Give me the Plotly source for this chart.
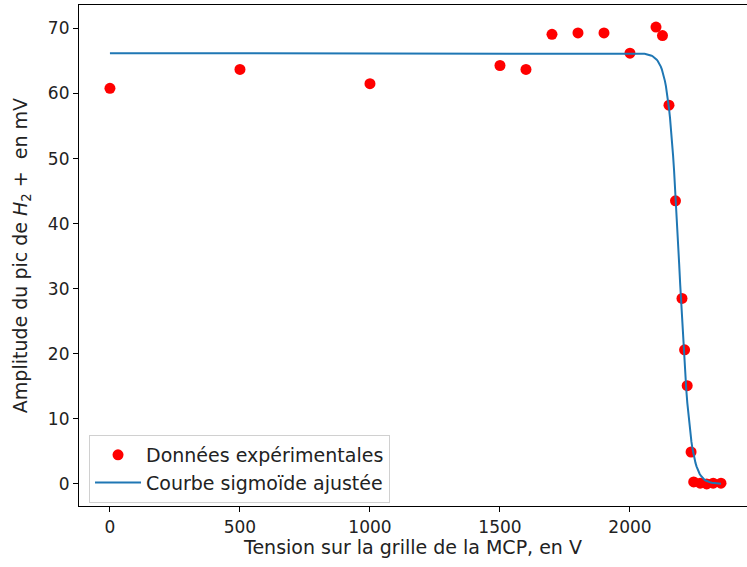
import numpy as np
import plotly.graph_objects as go

# Mesures : tension de grille (V) et amplitude du pic H2+ (mV)
tension = [0, 500, 1000, 1500, 1600, 1700, 1800, 1900, 2000, 2100, 2125,
           2150, 2175, 2200, 2210, 2220, 2235, 2245, 2270, 2295, 2320, 2350]
amplitude = [60.8, 63.7, 61.5, 64.3, 63.7, 69.1, 69.3, 69.3, 66.2, 70.2, 68.9,
             58.2, 43.5, 28.5, 20.6, 15.1, 4.9, 0.3, 0.1, 0.0, 0.1, 0.1]

# Paramètres de la sigmoïde ajustée : A / (1 + exp(k (V - V0)))
A_FIT = 66.2
K_FIT = 0.048
V0_FIT = 2190.0

v_fit = np.linspace(0, 2350, 600)
a_fit = A_FIT / (1.0 + np.exp(K_FIT * (v_fit - V0_FIT)))

FONT = "DejaVu Sans"

fig = go.Figure()
fig.add_trace(go.Scatter(
    x=tension, y=amplitude, mode="markers",
    marker=dict(color="#ff0000", size=11, line=dict(width=0)),
    name="Données expérimentales", legendgroup="a",
))
fig.add_trace(go.Scatter(
    x=v_fit, y=a_fit, mode="lines",
    line=dict(color="#1f77b4", width=2),
    name="Courbe sigmoïde ajustée", legendgroup="b",
))

fig.update_layout(
    width=747, height=567,
    margin=dict(l=79, r=0, t=5, b=61),
    paper_bgcolor="white", plot_bgcolor="white",
    font=dict(family=FONT, size=17, color="#222222"),
    showlegend=True,
    legend=dict(
        x=0.015, y=0.006, xanchor="left", yanchor="bottom",
        bgcolor="rgba(255,255,255,0.8)", bordercolor="#d0d0d0", borderwidth=1,
        font=dict(family=FONT, size=19, color="#222222"),
        tracegroupgap=0, itemwidth=46,
    ),
)
fig.update_xaxes(
    range=[-119, 2450], tickvals=[0, 500, 1000, 1500, 2000],
    showgrid=False, zeroline=False,
    showline=True, linecolor="black", linewidth=1.2, mirror=True,
    ticks="outside", ticklen=5, tickcolor="black",
    tickfont=dict(size=17),
    title=dict(text="Tension sur la grille de la MCP, en V", font=dict(size=19), standoff=5),
)
fig.update_yaxes(
    range=[-3.4, 73.6], tickvals=[0, 10, 20, 30, 40, 50, 60, 70],
    showgrid=False, zeroline=False,
    showline=True, linecolor="black", linewidth=1.2, mirror=False,
    ticks="outside", ticklen=5, tickcolor="black",
    tickfont=dict(size=17),
    title=dict(text="Amplitude du pic de <i>H</i><sub>2</sub> +  en mV", font=dict(size=19), standoff=15),
)

fig.write_html("out.html")
